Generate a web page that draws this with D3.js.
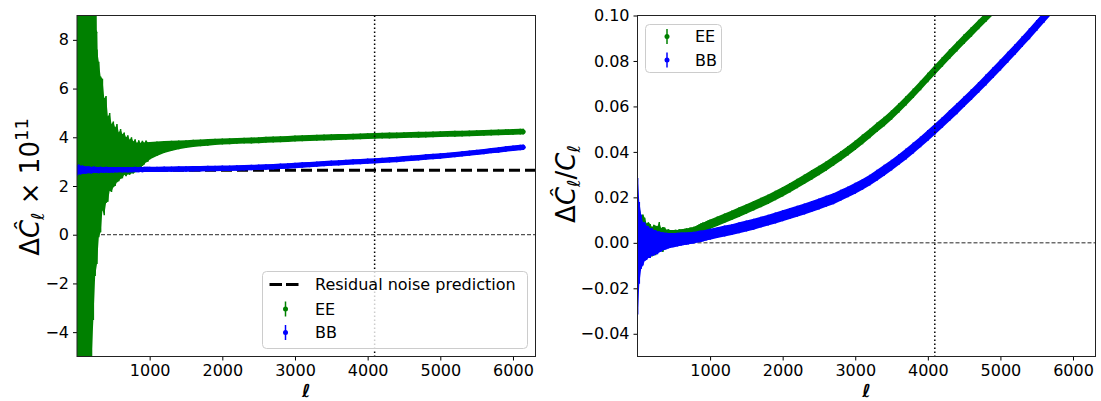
<!DOCTYPE html>
<html><head><meta charset="utf-8">
<script src="https://cdn.jsdelivr.net/npm/d3@7"></script>
<style>body{margin:0;background:#fff} svg{display:block} text{font-family:"DejaVu Sans",sans-serif;fill:#000}</style>
</head><body><svg id="c" width="1101" height="401"></svg>
<script>
// ---------- data ----------
const ellLow = [2,25,50,75,100,125,150,175,200,225,250,275,300,325,350,375,400,425,450,475,500,525,550,575,600,625,650,675,700,725,750,775,800,825,850,875,900,925,950,975];
const ellHigh = [1000,1100,1200,1300,1400,1500,1600,1700,1800,1900,2000,2100,2200,2300,2400,2500,2600,2700,2800,2900,3000,3100,3200,3300,3400,3500,3600,3700,3800,3900,4000,4100,4200,4300,4400,4500,4600,4700,4800,4900,5000,5100,5200,5300,5400,5500,5600,5700,5800,5900,6000,6100,6143];

// left panel: Delta C_ell x 1e11
const eeLowVal = [2.5,5.0,1.5,6.0,3.0,4.5,2.8,5.0,3.5,3.8,8.3,3.2,3.5,3.3,3.7,3.2,3.5,3.1,3.4,3.15,3.3,3.2,3.35,3.2,3.32,3.22,3.33,3.2,3.28,3.18,3.26,3.17,3.24,3.17,3.26,3.25,3.34,3.33,3.42,3.4];
const eeLowErr = [40,30,24,19,16,13.5,11.5,10,8.6,7.3,10,4.4,3.6,3.2,2.7,2.4,2.2,1.75,1.6,1.4,1.35,1.2,1.2,1.0,1.02,0.9,0.87,0.8,0.8,0.72,0.74,0.66,0.68,0.6,0.62,0.52,0.52,0.45,0.45,0.4];
const bbLowVal = [2.64,2.68,2.65,2.67,2.66,2.65,2.67,2.66,2.65,2.67,2.66,2.66,2.65,2.67,2.66,2.66,2.67,2.66,2.66,2.67,2.66,2.67,2.66,2.67,2.67,2.66,2.67,2.67,2.66,2.67,2.67,2.67,2.68,2.67,2.67,2.68,2.67,2.68,2.68,2.68];
const bbLowErr = [0.22,0.2,0.18,0.17,0.16,0.15,0.145,0.14,0.135,0.13,0.13,0.125,0.125,0.12,0.12,0.12,0.12,0.115,0.115,0.115,0.115,0.11,0.11,0.11,0.11,0.11,0.11,0.11,0.11,0.11,0.11,0.11,0.11,0.11,0.11,0.11,0.11,0.11,0.11,0.11];
const eeHighVal = [3.45,3.53,3.6,3.65,3.69,3.72,3.75,3.77,3.79,3.81,3.83,3.84,3.85,3.86,3.87,3.88,3.9,3.91,3.92,3.93,3.95,3.96,3.97,3.98,3.99,4.0,4.01,4.02,4.03,4.04,4.05,4.06,4.07,4.075,4.08,4.09,4.1,4.105,4.11,4.12,4.13,4.14,4.145,4.15,4.16,4.17,4.18,4.19,4.2,4.21,4.22,4.23,4.23];
const eeHighErr = [0.36,0.3,0.25,0.21,0.18,0.16,0.15,0.14,0.135,0.13,0.125,0.125,0.12,0.12,0.12,0.12,0.12,0.12,0.12,0.12,0.12,0.12,0.12,0.12,0.12,0.12,0.12,0.12,0.12,0.12,0.12,0.12,0.12,0.12,0.12,0.12,0.12,0.12,0.12,0.12,0.12,0.12,0.12,0.12,0.12,0.12,0.12,0.12,0.12,0.12,0.12,0.12,0.12];
const bbHighVal = [2.68,2.68,2.69,2.69,2.7,2.7,2.71,2.71,2.72,2.72,2.73,2.73,2.74,2.75,2.76,2.77,2.78,2.79,2.81,2.82,2.84,2.86,2.88,2.9,2.92,2.94,2.95,2.97,2.99,3.0,3.02,3.03,3.05,3.07,3.09,3.12,3.14,3.16,3.19,3.21,3.23,3.26,3.29,3.32,3.35,3.38,3.41,3.45,3.48,3.52,3.55,3.58,3.59];
const bbHighErr = [0.11,0.11,0.11,0.11,0.11,0.11,0.11,0.11,0.11,0.11,0.11,0.11,0.11,0.11,0.11,0.11,0.11,0.11,0.11,0.11,0.11,0.11,0.11,0.11,0.11,0.11,0.11,0.11,0.11,0.11,0.11,0.11,0.11,0.11,0.11,0.11,0.11,0.11,0.11,0.11,0.11,0.11,0.11,0.11,0.11,0.11,0.11,0.11,0.11,0.11,0.11,0.11,0.11];
const noisePrediction = 2.65;

// right panel: Delta C_ell / C_ell
const eeRLowVal = [0.0,0.002,0.001,0.003,0.0025,0.001,0.002,0.0015,0.0005,0.002,0.001,0.0018,0.003,0.0015,0.0015,0.0022,0.002,0.0024,0.0025,0.0026,0.0028,0.003,0.003,0.0033,0.0034,0.0035,0.0037,0.0039,0.004,0.0043,0.0045,0.0048,0.005,0.0055,0.006,0.0064,0.0067,0.0071,0.0075,0.0078];
const eeRLowErr = [0.02,0.014,0.011,0.0095,0.0085,0.0075,0.007,0.0068,0.0065,0.006,0.0065,0.0055,0.0062,0.005,0.0055,0.0045,0.0038,0.0036,0.0032,0.003,0.0029,0.0028,0.0027,0.0027,0.0026,0.0026,0.0025,0.0025,0.0024,0.0024,0.0023,0.0023,0.0023,0.0022,0.0022,0.0022,0.0022,0.0021,0.0021,0.0021];
const bbRLowVal = [-0.0015,0.0,0.0005,-0.0005,0.0005,0.0,0.0003,-0.0002,0.0004,0.0,0.0003,0.0,0.0005,0.0004,0.0007,0.0006,0.0008,0.0009,0.001,0.0011,0.0012,0.0013,0.0014,0.0015,0.0016,0.0017,0.0018,0.0019,0.002,0.0021,0.0022,0.0023,0.0024,0.0026,0.0028,0.0029,0.003,0.0032,0.0034,0.0036];
const bbRLowErr = [0.03,0.018,0.012,0.0095,0.0085,0.0075,0.007,0.0065,0.006,0.0057,0.0053,0.005,0.0046,0.0043,0.004,0.0038,0.0036,0.0034,0.0033,0.0032,0.0031,0.003,0.003,0.0029,0.0029,0.0028,0.0028,0.0027,0.0027,0.0026,0.0026,0.0026,0.0025,0.0025,0.0025,0.0025,0.0024,0.0024,0.0024,0.0024];
const eeRHighVal = [0.0082,0.0095,0.0108,0.0121,0.0135,0.0149,0.0163,0.0177,0.0192,0.0208,0.0225,0.0242,0.0261,0.028,0.0299,0.0318,0.0338,0.036,0.0382,0.0405,0.0429,0.0455,0.0481,0.0508,0.0534,0.0562,0.0593,0.0625,0.0658,0.0692,0.0727,0.0762,0.0796,0.083,0.0863,0.0896,0.0928,0.096,0.0992,0.1024,0.1056,null,null,null,null,null,null,null,null,null,null,null,null];
const eeRHighErr = [0.0021,0.0021,0.0021,0.0021,0.0021,0.0021,0.0021,0.0021,0.0021,0.0021,0.0021,0.0021,0.0021,0.0021,0.0021,0.0021,0.0021,0.0021,0.0021,0.0021,0.0021,0.0021,0.0021,0.0021,0.0021,0.0021,0.0021,0.0021,0.0021,0.0021,0.0021,0.0021,0.0021,0.0021,0.0021,0.0021,0.0021,0.0021,0.0021,0.0021,0.0021,0.0021,0.0021,0.0021,0.0021,0.0021,0.0021,0.0021,0.0021,0.0021,0.0021,0.0021,0.0021];
const bbRHighVal = [0.0038,0.0045,0.0052,0.0058,0.0066,0.0074,0.0082,0.0091,0.01,0.0109,0.0119,0.0129,0.0139,0.0149,0.016,0.0171,0.0183,0.0194,0.0209,0.0224,0.024,0.0257,0.0276,0.0297,0.0319,0.0342,0.0366,0.0391,0.0417,0.0444,0.0472,0.0501,0.053,0.056,0.059,0.0621,0.0652,0.0684,0.0716,0.0749,0.0782,0.0816,0.085,0.0885,0.092,0.0956,0.0992,0.1028,null,null,null,null,null];
const bbRHighErr = [0.0024,0.0024,0.0024,0.0024,0.0024,0.0024,0.0024,0.0024,0.0024,0.0024,0.0024,0.0024,0.0024,0.0024,0.0024,0.0024,0.0024,0.0024,0.0024,0.0024,0.0024,0.0024,0.0024,0.0024,0.0024,0.0024,0.0024,0.0024,0.0024,0.0024,0.0024,0.0024,0.0024,0.0024,0.0024,0.0024,0.0024,0.0024,0.0024,0.0024,0.0024,0.0024,0.0024,0.0024,0.0024,0.0024,0.0024,0.0024,0.0024,0.0024,0.0024,0.0024,0.0024];

const xTicks = [1000,2000,3000,4000,5000,6000];
const yTicksLeft = [-4,-2,0,2,4,6,8];
const yTicksRight = [-0.04,-0.02,0.0,0.02,0.04,0.06,0.08,0.10];
const ellMark = 4096;
const seriesNames = ["EE","BB"];
const colors = {EE:"#008000", BB:"#0000ff"};

// ---------- drawing ----------
const svg = d3.select("#c");
const minus = s => String(s).replace("-", "\u2212");

function build(lowL, lowV, lowE, highL, highV, highE) {
  const out = [];
  lowL.forEach((l,i) => out.push({l, v: lowV[i], e: lowE[i]}));
  highL.forEach((l,i) => out.push({l, v: highV[i], e: highE[i]}));
  return out;
}

function panel(cfg) {
  const {x0, x1, y0, y1, xDomain, yDomain, yTicks, yFmt, series, hline, id} = cfg;
  const x = d3.scaleLinear().domain(xDomain).range([x0, x1]);
  const y = d3.scaleLinear().domain(yDomain).range([y1, y0]);
  const g = svg.append("g");
  svg.append("clipPath").attr("id", id).append("rect")
    .attr("x", x0).attr("y", y0).attr("width", x1 - x0).attr("height", y1 - y0);
  const plot = g.append("g").attr("clip-path", `url(#${id})`);

  plot.append("line").attr("x1", x0).attr("x2", x1)
    .attr("y1", y(0)).attr("y2", y(0))
    .attr("stroke", "#000").attr("stroke-opacity", 0.85).attr("stroke-width", 1)
    .attr("stroke-dasharray", "4,2");
  if (hline != null) {
    plot.append("line").attr("x1", x0).attr("x2", x1)
      .attr("y1", y(hline)).attr("y2", y(hline))
      .attr("stroke", "#000").attr("stroke-width", 3)
      .attr("stroke-dasharray", "11,5");
  }
  series.forEach(s => {
    const col = colors[s.name];
    const data = s.data.filter(d => d.v != null);
    plot.append("path").datum(data)
      .attr("d", d3.area().x(d => x(d.l)).y0(d => y(d.v - d.e)).y1(d => y(d.v + d.e)))
      .attr("fill", col);
    plot.selectAll(null).data(data).enter().append("line")
      .attr("x1", d => x(d.l)).attr("x2", d => x(d.l))
      .attr("y1", d => y(d.v - d.e)).attr("y2", d => y(d.v + d.e))
      .attr("stroke", col).attr("stroke-width", 1.5);
    plot.append("path").datum(data)
      .attr("d", d3.line().x(d => x(d.l)).y(d => y(d.v)))
      .attr("fill", "none").attr("stroke", col).attr("stroke-width", 4.4)
      .attr("stroke-linejoin", "round").attr("stroke-linecap", "round");
    plot.selectAll(null).data(data).enter().append("circle")
      .attr("cx", d => x(d.l)).attr("cy", d => y(d.v)).attr("r", 2.2).attr("fill", col);
  });
  plot.append("line").attr("x1", x(ellMark)).attr("x2", x(ellMark))
    .attr("y1", y0).attr("y2", y1)
    .attr("stroke", "#000").attr("stroke-width", 1.5).attr("stroke-dasharray", "1.5,2.5");

  const ax = g.append("g").attr("transform", `translate(0,${y1})`)
    .call(d3.axisBottom(x).tickValues(xTicks).tickSize(4).tickPadding(4.5).tickFormat(d3.format("d")));
  const ay = g.append("g").attr("transform", `translate(${x0},0)`)
    .call(d3.axisLeft(y).tickValues(yTicks).tickSize(4).tickPadding(4).tickFormat(d => minus(yFmt(d))));
  [ax, ay].forEach(a => {
    a.select(".domain").remove();
    a.selectAll("line").attr("stroke", "#000").attr("stroke-width", 1);
    a.selectAll("text").attr("font-size", 16).attr("font-family", "DejaVu Sans").attr("fill", "#000");
  });
  g.append("rect").attr("x", x0).attr("y", y0).attr("width", x1 - x0).attr("height", y1 - y0)
    .attr("fill", "none").attr("stroke", "#222").attr("stroke-width", 1);
  g.append("text").attr("x", (x0 + x1) / 2).attr("y", 397)
    .attr("text-anchor", "middle").attr("font-size", 18).attr("font-style", "italic")
    .attr("font-weight", "bold").text("\u2113");
  return {x, y, g};
}

panel({
  id: "clipL", x0: 77, x1: 535.5, y0: 15.5, y1: 356.5,
  xDomain: [0, 6310], yDomain: [-5, 9], yTicks: yTicksLeft, yFmt: d3.format("d"),
  hline: noisePrediction,
  series: [
    {name: "EE", data: build(ellLow, eeLowVal, eeLowErr, ellHigh, eeHighVal, eeHighErr)},
    {name: "BB", data: build(ellLow, bbLowVal, bbLowErr, ellHigh, bbHighVal, bbHighErr)}
  ]
});
panel({
  id: "clipR", x0: 637.5, x1: 1095.5, y0: 15.5, y1: 356.5,
  xDomain: [0, 6310], yDomain: [-0.05, 0.10], yTicks: yTicksRight, yFmt: d3.format(".2f"),
  hline: null,
  series: [
    {name: "EE", data: build(ellLow, eeRLowVal, eeRLowErr, ellHigh, eeRHighVal, eeRHighErr)},
    {name: "BB", data: build(ellLow, bbRLowVal, bbRLowErr, ellHigh, bbRHighVal, bbRHighErr)}
  ]
});

function ylabel(xp, yp, parts) {
  const t = svg.append("text").attr("transform", `translate(${xp},${yp}) rotate(-90)`)
    .attr("text-anchor", "middle").attr("font-size", 26);
  parts.forEach(p => {
    const ts = t.append("tspan").text(p.t);
    if (p.it) ts.attr("font-style", "italic");
    if (p.fs) ts.attr("font-size", p.fs);
    if (p.dy) ts.attr("dy", p.dy);
  });
}
ylabel(39, 187, [
  {t: "\u0394"}, {t: "\u0108", it: true}, {t: "\u2113", it: true, fs: 18, dy: 5},
  {t: " \u00d7 10", dy: -5}, {t: "11", fs: 18, dy: -11}
]);
ylabel(575, 184, [
  {t: "\u0394"}, {t: "\u0108", it: true}, {t: "\u2113", it: true, fs: 18, dy: 5},
  {t: "/", dy: -5}, {t: "C", it: true}, {t: "\u2113", it: true, fs: 18, dy: 5}
]);

function errHandle(g, cx, cy, col) {
  g.append("line").attr("x1", cx).attr("x2", cx).attr("y1", cy - 7.5).attr("y2", cy + 7.5)
    .attr("stroke", col).attr("stroke-width", 1.5);
  g.append("circle").attr("cx", cx).attr("cy", cy).attr("r", 2.5).attr("fill", col);
}
function legend(bx, by, bw, bh, entries, hx, tx) {
  const g = svg.append("g");
  g.append("rect").attr("x", bx).attr("y", by).attr("width", bw).attr("height", bh)
    .attr("rx", 4).attr("fill", "#fff").attr("fill-opacity", 0.8)
    .attr("stroke", "#cccccc").attr("stroke-width", 1);
  entries.forEach(e => {
    if (e.kind === "dash") {
      g.append("line").attr("x1", hx - 16).attr("x2", hx + 17).attr("y1", e.y).attr("y2", e.y)
        .attr("stroke", "#000").attr("stroke-width", 3).attr("stroke-dasharray", "12.5,4");
    } else {
      errHandle(g, hx, e.y, colors[e.label]);
    }
    g.append("text").attr("x", tx).attr("y", e.y).attr("dy", "0.36em")
      .attr("font-size", 16).text(e.label);
  });
}
legend(262.5, 271.5, 265, 77, [
  {kind: "dash", label: "Residual noise prediction", y: 284.5},
  {kind: "err", label: seriesNames[0], y: 309},
  {kind: "err", label: seriesNames[1], y: 332.5}
], 285.5, 315);
legend(645.5, 24.5, 76, 48, [
  {kind: "err", label: seriesNames[0], y: 36.5},
  {kind: "err", label: seriesNames[1], y: 60}
], 667, 695);
</script></body></html>
